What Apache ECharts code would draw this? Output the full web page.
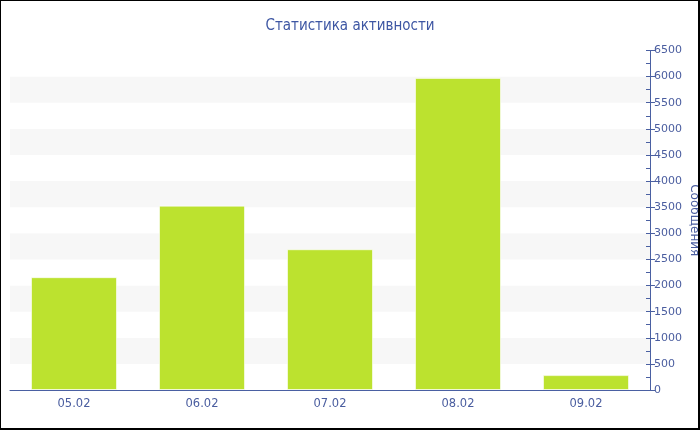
<!DOCTYPE html>
<html>
<head>
<meta charset="utf-8">
<script src="https://cdn.jsdelivr.net/npm/echarts@6/dist/echarts.min.js"></script>
<style>
html,body{margin:0;padding:0;background:#fff;}
#c{width:700px;height:430px;}
</style>
</head>
<body>
<div id="c"></div>
<script>
const titleText = 'Статистика активности';
const categories = ['05.02', '06.02', '07.02', '08.02', '09.02'];
const messages = [2160, 3530, 2695, 5975, 285];
const axisName = 'Сообщения';
const yMin = 0, yMax = 6500, yStep = 500, yMinorStep = 250;

const textColor = '#4a5d9f';
const axisColor = '#4a60a2';
const font = 'DejaVu Sans';

const chart = echarts.init(document.getElementById('c'), null, {renderer: 'canvas'});
chart.setOption({
  animation: false,
  backgroundColor: '#fff',
  title: {
    text: titleText,
    left: 'center',
    top: 14,
    textStyle: {color: '#3d56a3', fontFamily: 'DejaVu Sans Condensed', fontSize: 15, fontWeight: 'normal'}
  },
  grid: {left: 10, right: 50, top: 50.5, bottom: 40, containLabel: false, outerBoundsMode: 'none'},
  xAxis: {
    type: 'category',
    data: categories,
    axisLine: {lineStyle: {color: axisColor, width: 1}},
    axisTick: {alignWithLabel: true, length: 5, lineStyle: {color: axisColor}},
    axisLabel: {color: textColor, fontFamily: font, fontSize: 11.5, margin: 8}
  },
  yAxis: [{
    type: 'value',
    position: 'right',
    min: yMin, max: yMax, interval: yStep,
    name: axisName,
    nameLocation: 'middle',
    nameRotate: -90,
    nameGap: 38,
    nameMoveOverlap: false,
    nameTextStyle: {color: textColor, fontFamily: font, fontSize: 12},
    axisLine: {show: true, lineStyle: {color: axisColor, width: 1}},
    axisTick: {show: true, length: 5, lineStyle: {color: axisColor}},
    axisLabel: {color: textColor, fontFamily: font, fontSize: 11, margin: 4, formatter: v => String(v)},
    splitLine: {show: false},
    splitArea: {show: true, areaStyle: {color: ['#ffffff', '#f7f7f7']}}
  }, {
    type: 'value',
    position: 'right',
    min: yMin, max: yMax, interval: yMinorStep,
    axisLine: {show: false},
    axisTick: {show: true, inside: true, length: 4, lineStyle: {color: axisColor}},
    axisLabel: {show: false},
    splitLine: {show: false},
    splitArea: {show: false}
  }],
  series: [{
    type: 'bar',
    data: messages,
    yAxisIndex: 0,
    barWidth: 86,
    itemStyle: {color: '#bce22f', borderColor: 'rgba(255,255,255,0.6)', borderWidth: 1}
  }],
  graphic: [{
    type: 'rect',
    z: 100,
    silent: true,
    shape: {x: 0, y: 0, width: 699, height: 429},
    style: {fill: null, stroke: '#000', lineWidth: 2}
  }]
});
</script>
</body>
</html>
